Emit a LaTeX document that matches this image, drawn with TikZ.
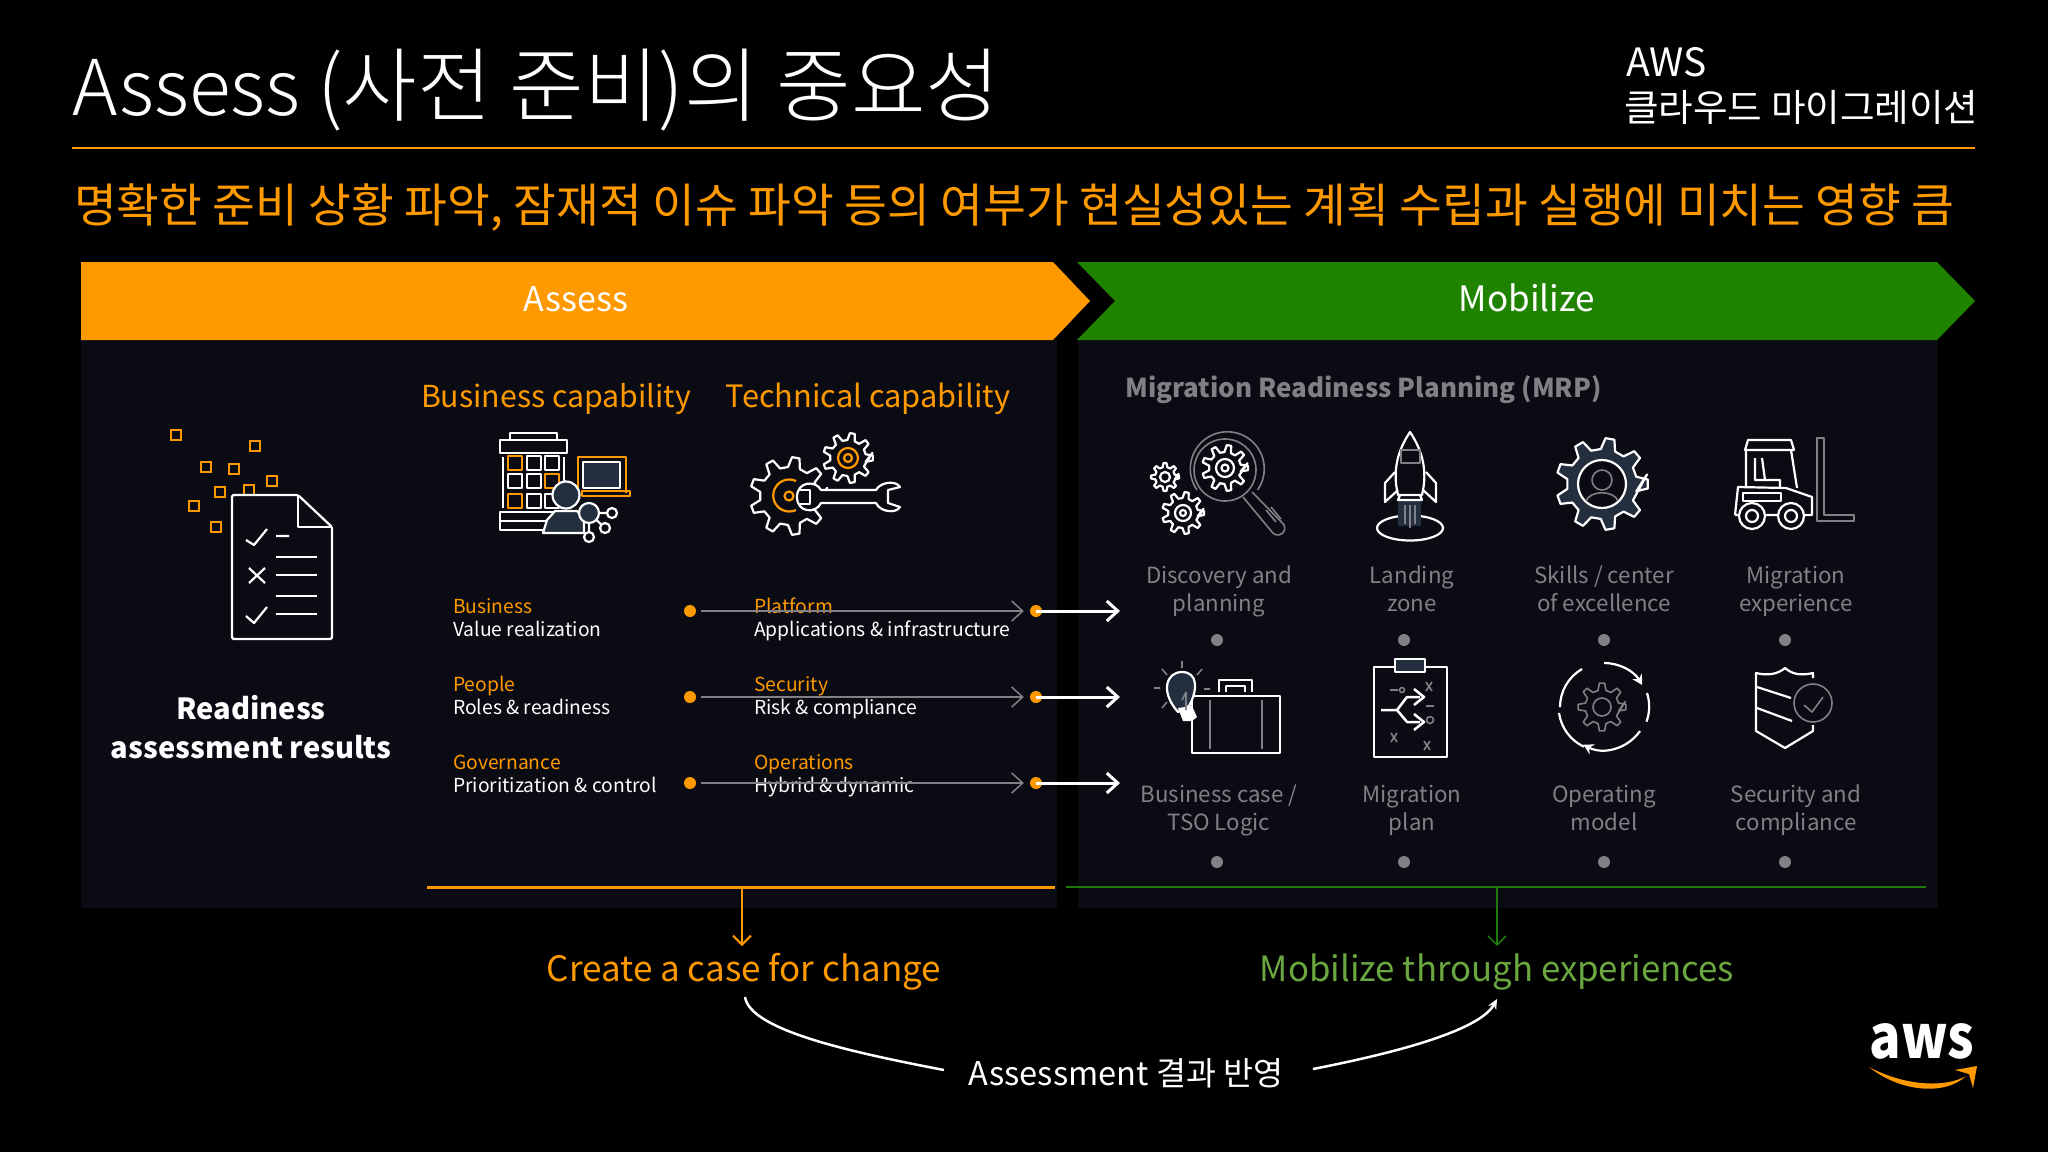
\documentclass[tikz,border=0pt]{standalone}
\usepackage{fontspec}
\setmainfont{Noto Sans CJK KR}
\newfontfamily\lightfont{Noto Sans CJK KR Light}
\usetikzlibrary{arrows.meta}
\definecolor{awsorange}{HTML}{FF9900}
\definecolor{awsgreen}{HTML}{1F8300}
\definecolor{linegreen}{HTML}{1D7A0A}
\definecolor{textgreen}{HTML}{6AA83F}
\definecolor{panelblack}{HTML}{0A0B13}
\definecolor{dimgray}{HTML}{808186}
\definecolor{iconfill}{HTML}{232F3E}
\newcommand{\fsz}[2]{\fontsize{#1}{#2}\selectfont}
\newcommand{\gearicon}[5][icon]{%
  \pgfmathsetmacro{\stp}{360/#5}
  \draw[#1,shift={(#2,#3)}] ({-0.3*\stp}:#4) \foreach \i in {1,...,#5} {
    -- ({\i*\stp-0.3*\stp}:\gearin) -- ({\i*\stp-0.14*\stp}:#4) -- ({\i*\stp+0.14*\stp}:#4) -- ({\i*\stp+0.3*\stp}:\gearin)} -- cycle;
}
\begin{document}
\begin{tikzpicture}[x=1pt,y=-1pt,>={Straight Barb[length=11pt,width=20pt]},
  icon/.style={draw=white,line width=2.2pt,line join=round},
  oicon/.style={draw=awsorange,line width=2.2pt,line join=round},
  gicon/.style={draw=dimgray,line width=1.6pt,line join=round},
  lbl/.style={inner sep=0pt,align=center},
  rowlbl/.style={inner sep=0pt,align=left,anchor=west,font=\fsz{19.3}{23}},
  mrplbl/.style={inner sep=0pt,align=center,text=dimgray,font=\fsz{22.3}{28.5}},
  odot/.style={circle,fill=awsorange,inner sep=0pt,minimum size=12pt},
  gdot/.style={circle,fill=dimgray,inner sep=0pt,minimum size=12pt},
  tinybox/.style={draw=awsorange,line width=2.4pt,minimum size=10.5pt,inner sep=0pt}]
  \fill[black] (0,0) rectangle (2048,1152);
  \useasboundingbox (0,0) rectangle (2048,1152);

  \node[lbl,anchor=base west,text=white] (title) at (72,115) {\lightfont\fsz{77}{77}Assess {\fsz{81}{81}(사전 준비)의 중요성}};
  \node[lbl,anchor=base west,text=white] (awsname) at (1626,76) {\fsz{39}{39}AWS};
  \node[lbl,anchor=base west,text=white] (awscloud) at (1624,121) {\fsz{37.6}{37.6}클라우드 마이그레이션};
  \draw[awsorange,line width=2.5pt] (72,148) -- (1975,148);
  \node[lbl,anchor=base west,text=awsorange] (subtitle) at (74,222) {\fsz{46.5}{46.5}명확한 준비 상황 파악, 잠재적 이슈 파악 등의 여부가 현실성있는 계획 수립과 실행에 미치는 영향 큼};

  \fill[panelblack] (81,340) rectangle (1057,908);
  \fill[panelblack] (1078,340) rectangle (1938,908);
  \fill[awsorange] (81,262) -- (1053,262) -- (1090,301) -- (1053,340) -- (81,340) -- cycle;
  \fill[awsgreen] (1077,262) -- (1937,262) -- (1975,301) -- (1937,340) -- (1077,340) -- (1115,301) -- cycle;
  \node[lbl,text=white] (assess) at (576,299) {\fsz{34}{34}Assess};
  \node[lbl,text=white] (mobilize) at (1527,298) {\fsz{35}{35}Mobilize};

  \foreach \x/\y in {176/435,255/446,206/467,234/469,272/481,220/492,249/490,194/506,216/527}
    \node[tinybox] (sq\x) at (\x,\y) {};
  \filldraw[icon,fill=panelblack,rounded corners=1.5pt] (232,495) -- (298,495) -- (332,527) -- (332,639) -- (232,639) -- cycle;
  \draw[icon] (298,495) -- (298,527) -- (332,527);
  \draw[icon] (246,540) -- (254,545) -- (267,529) (276,536) -- (289,536);
  \draw[icon] (276,557) -- (317,557) (276,575) -- (317,575) (276,596) -- (317,596) (276,614) -- (317,614);
  \draw[icon] (249,568) -- (265,583) (265,568) -- (249,583);
  \draw[icon] (246,616) -- (254,623) -- (267,607);
  \node[lbl,text=white,font=\bfseries\fsz{29.1}{39}] (results) at (251,727) {Readiness\\assessment results};

  \node[lbl,text=awsorange] (bizcap) at (556,399) {\fsz{30.3}{32}Business capability};
  \node[lbl,text=awsorange] (techcap) at (868,399) {\fsz{30.8}{32}Technical capability};

  \draw[icon] (510,440) -- (510,433) -- (557,433) -- (557,440) (500,440) rectangle (567,453) (503,457) -- (503,508) (564,457) -- (564,508);
  \foreach \x/\y in {534/463,552/463,515/481,534/481,534/501,552/501}
    \draw[icon] (\x-7,\y-7) rectangle (\x+7,\y+7);
  \foreach \x/\y in {515/463,552/481,515/501}
    \draw[oicon] (\x-7,\y-7) rectangle (\x+7,\y+7);
  \draw[icon] (500,512) rectangle (555,530) (500,521) -- (555,521);
  \draw[oicon] (578,493) -- (578,457) -- (626,457) -- (626,493);
  \filldraw[icon,fill=iconfill] (583,462) rectangle (620,488);
  \draw[oicon] (582,491) -- (630,491) -- (630,496) -- (582,496) -- cycle;
  \filldraw[icon,fill=iconfill] (543,533) -- (547,520) -- (555,511) -- (577,511) -- (584,518) -- (584,533) -- cycle;
  \filldraw[icon,fill=iconfill] (566,495) circle (13.5);
  \draw[icon] (589,513) -- (612,513) (589,513) -- (605,528) (589,513) -- (589,537);
  \filldraw[icon,fill=iconfill] (589,513) circle (10);
  \filldraw[icon,fill=panelblack] (612,513) circle (5) (605,528) circle (5) (589,537) circle (5);

  \def\gearin{29}
  \gearicon{789}{496}{39}{9}
  \draw[oicon] (796,481) arc (-65:-295:16);
  \draw[oicon] (789,496) circle (4.5);
  \def\gearin{18}
  \gearicon{848}{458}{25}{9}
  \draw[oicon] (848,458) circle (10) (848,458) circle (4);
  \filldraw[icon,fill=panelblack] (821,490) -- (876,490) .. controls (880,482) and (896,480) .. (900,487) -- (888,490) -- (888,503) -- (900,507) .. controls (896,514) and (880,512) .. (876,503) -- (821,503) .. controls (816,514) and (797,513) .. (797,497) .. controls (797,481) and (816,480) .. (821,490) -- cycle;
  \draw[icon] (800,490) -- (810,490) -- (810,504) -- (800,504);

  \foreach \n/\y/\cap/\sub in {1/620/Business/Value realization,2/698/People/Roles \& readiness,3/776/Governance/Prioritization \& control}
    \node[rowlbl] (left\n) at (453,\y) {\strut\textcolor{awsorange}{\cap}\\\strut\textcolor{white}{\sub}};
  \foreach \n/\y/\cap/\sub in {1/620/Platform/Applications \& infrastructure,2/698/Security/Risk \& compliance,3/776/Operations/Hybrid \& dynamic}
    \node[rowlbl] (right\n) at (754,\y) {\strut\textcolor{awsorange}{\cap}\\\strut\textcolor{white}{\sub}};
  \foreach \n/\y in {1/611,2/697,3/783} {
    \node[odot] (ldot\n) at (690,\y) {};
    \node[odot] (rdot\n) at (1036,\y) {};
    \coordinate (tip\n) at (1120,\y);
    \draw[->,dimgray,line width=1.5pt,shorten <=5pt,shorten >=6pt] (ldot\n) -- (rdot\n);
    \draw[->,white,line width=3pt] (rdot\n.center) -- (tip\n);
  }

  \node[lbl,anchor=west,text=dimgray] (mrp) at (1125,390) {\bfseries\fsz{26}{26}Migration Readiness Planning (MRP)};

  \def\gearin{10}
  \gearicon{1165}{477}{14}{8}
  \draw[icon] (1165,477) circle (5);
  \def\gearin{15}
  \gearicon{1183}{513}{21}{9}
  \draw[icon] (1183,513) circle (8) (1183,513) circle (3);
  \draw[gicon] (1225,470) circle (31);
  \draw[gicon] (1197,490) arc (145:395:37);
  \draw[gicon] (1243,497) -- (1272,532) arc (145:-30:7) -- (1252,492);
  \draw[gicon] (1266,510) -- (1276,522) (1271,507) -- (1281,519);
  \def\gearin{16}
  \gearicon{1225}{468}{23}{9}
  \draw[icon] (1225,468) circle (9) (1225,468) circle (3.5);

  \draw[icon] (1410,528) ellipse (33 and 12.5);
  \fill[iconfill] (1398,500) rectangle (1421,526);
  \draw[gicon] (1405,505) -- (1405,524) (1410,505) -- (1410,528) (1415,505) -- (1415,524);
  \draw[icon] (1398,495) .. controls (1392,470) and (1398,450) .. (1410,432) .. controls (1422,450) and (1428,470) .. (1422,495) -- cycle;
  \draw[gicon] (1401,450) rectangle (1420,463);
  \draw[icon] (1395,472) -- (1385,483) -- (1385,502) -- (1398,490) (1426,472) -- (1436,483) -- (1436,502) -- (1423,490);
  \draw[icon] (1400,495) -- (1398,500) -- (1422,500) -- (1420,495);

  \def\gearin{35}
  \gearicon[icon,fill=iconfill]{1602}{484}{46}{9}
  \filldraw[icon,fill=panelblack] (1602,484) circle (24);
  \draw[gicon] (1602,480) circle (10);
  \draw[gicon] (1586,501) .. controls (1590,490) and (1614,490) .. (1618,501);

  \draw[icon] (1745,450) -- (1748,440) -- (1791,440) -- (1794,450) -- cycle;
  \draw[icon] (1746,450) -- (1746,486) (1791,450) -- (1797,488);
  \draw[icon] (1755,458) -- (1755,480) -- (1780,480) -- (1780,488) (1762,458) -- (1765,480);
  \draw[icon] (1735,515) -- (1738,487) -- (1786,488) -- (1812,497) -- (1812,515) -- (1735,515);
  \draw[icon] (1743,493) rectangle (1781,501);
  \filldraw[icon,fill=panelblack] (1752,516) circle (13) (1791,516) circle (13);
  \draw[icon] (1752,516) circle (6) (1791,516) circle (6);
  \draw[gicon] (1817,438) -- (1824,438) -- (1824,515) -- (1854,515) -- (1854,521) -- (1817,521) -- cycle;

  \foreach \x/\top/\bot in {1219/Discovery and/planning,1412/Landing/zone,1604/Skills \slash{} center/of excellence,1796/Migration/experience}
    \node[mrplbl] (up\x) at (\x,592) {\strut\top\\\strut\bot};
  \foreach \x/\top/\bot in {1219/Business case \slash{}/TSO Logic,1412/Migration/plan,1604/Operating/model,1796/Security and/compliance}
    \node[mrplbl] (low\x) at (\x,811) {\strut\top\\\strut\bot};
  \foreach \x in {1217,1404,1604,1785} {
    \node[gdot] (upd\x) at (\x,640) {};
    \node[gdot] (lowd\x) at (\x,862) {};
  }

  \draw[gicon] (1182,661) -- (1182,668) (1162,669) -- (1167,675) (1202,669) -- (1197,675) (1154,688) -- (1160,688) (1204,689) -- (1210,689) (1162,708) -- (1167,702);
  \draw[icon] (1192,696) rectangle (1280,753);
  \draw[icon] (1219,692) -- (1219,680) -- (1252,680) -- (1252,692) (1226,692) -- (1226,686) -- (1245,686) -- (1245,692);
  \draw[gicon] (1210,700) -- (1210,749) (1262,700) -- (1262,749);
  \filldraw[icon,fill=iconfill] (1189,706) .. controls (1198,690) and (1198,672) .. (1182,672) .. controls (1166,672) and (1160,692) .. (1178,712) -- cycle;
  \fill[white] (1178,708) -- (1192,706) -- (1197,717) -- (1192,721) -- (1183,721) -- cycle;
  \draw[gicon] (1182,700) -- (1186,692) (1186,710) -- (1186,692);

  \draw[icon] (1374,667) rectangle (1447,757);
  \filldraw[icon,fill=iconfill] (1395,659) rectangle (1425,672);
  \draw[icon,line width=2.5pt] (1381,710) -- (1397,710) -- (1407,697) -- (1420,697) (1381,710) -- (1397,710) -- (1407,722) -- (1420,722);
  \draw[icon,line width=2.5pt] (1414,689) -- (1424,697) -- (1414,705) (1414,714) -- (1424,722) -- (1414,730);
  \draw[gicon] (1426,682) -- (1432,691) (1432,682) -- (1426,691) (1391,733) -- (1397,742) (1397,733) -- (1391,742) (1424,741) -- (1430,750) (1430,741) -- (1424,750);
  \draw[gicon] (1390,690) -- (1398,690) (1402,690) circle (2.5) (1426,706) -- (1434,706) (1430,720) circle (3.5);

  \draw[icon,->,>={Stealth[length=10pt,width=11pt]}] (1604,663) arc (-90:-30:44);
  \draw[icon,->,>={Stealth[length=10pt,width=11pt]}] (1640,731) arc (35:118:44);
  \draw[icon] (1582,669) arc (-120:-180:44) (1647,693) arc (-18:20:44) (1559,713) arc (172:115:44);
  \draw[gicon] (1602,707) circle (9);
  \def\gearin{17}
  \gearicon[gicon]{1602}{707}{24}{8}

  \draw[icon] (1813,678) -- (1813,673) .. controls (1800,676) and (1792,674) .. (1785,668) .. controls (1778,674) and (1768,676) .. (1756,673) -- (1756,731) -- (1785,748) -- (1813,731) -- (1813,725);
  \draw[icon] (1757,687) -- (1791,698) (1757,708) -- (1792,721);
  \filldraw[gicon,fill=panelblack] (1813,703) circle (19);
  \draw[gicon] (1804,705) -- (1812,712) -- (1823,697);

  \coordinate (cbar) at (742,887);
  \coordinate (cend) at (742,946);
  \coordinate (mbar) at (1497,887);
  \coordinate (mend) at (1497,946);
  \draw[awsorange,line width=3pt] (427,887) -- (1055,887);
  \draw[linegreen,line width=1.5pt] (1066,887) -- (1926,887);
  \draw[->,awsorange,line width=2pt,>={Straight Barb[length=9pt,width=18pt]}] (cbar) -- (cend);
  \draw[->,linegreen,line width=1.5pt,>={Straight Barb[length=9pt,width=18pt]}] (mbar) -- (mend);
  \node[lbl,text=awsorange] (casenode) at (744,972) {\fsz{35}{36}Create a case for change};
  \node[lbl,text=textgreen] (mobnode) at (1497,972) {\fsz{34.8}{36}Mobilize through experiences};
  \node[lbl,text=white] (result) at (1126,1073) {\fsz{32.6}{33}Assessment 결과 반영};
  \coordinate (cstart) at (745,997);
  \coordinate (mstart) at (1497,999);
  \draw[white,line width=2.5pt] (cstart) .. controls (750,1030) and (850,1052) .. (944,1070);
  \draw[white,line width=2.5pt,-{Stealth[length=10pt,width=9pt]}] (1313,1069) .. controls (1400,1052) and (1480,1030) .. (mstart);

  \node[lbl,anchor=base,text=white] (awslogo) at (1922,1058) {\scalebox{0.87}[1]{\bfseries\fsz{60}{60}aws}};
  \fill[awsorange] (1869,1067) .. controls (1900,1092) and (1945,1096) .. (1966,1076) .. controls (1945,1088) and (1905,1086) .. cycle;
  \fill[awsorange] (1955,1070) -- (1977,1066) -- (1973,1088) -- (1969,1074) -- cycle;
\end{tikzpicture}
\end{document}
